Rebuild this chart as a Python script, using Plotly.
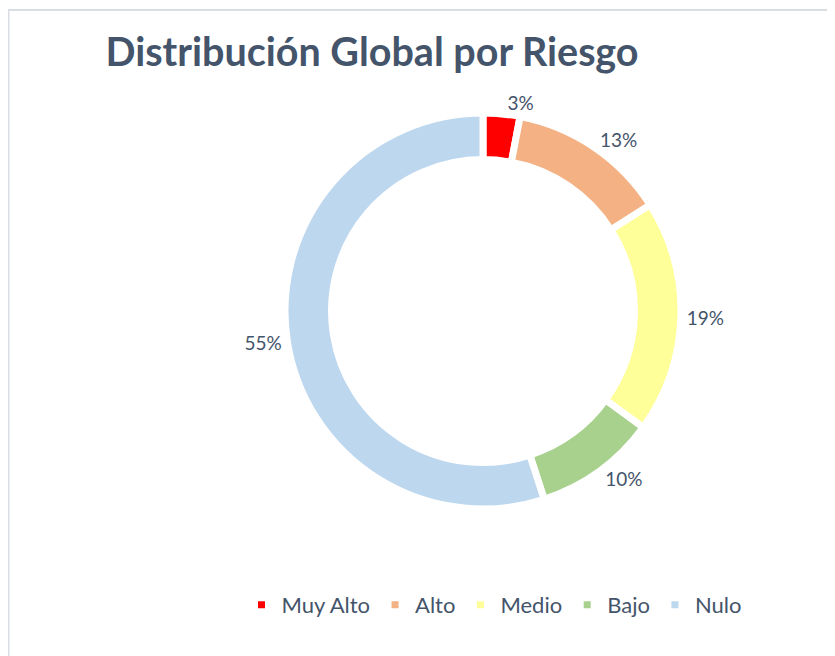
import plotly.graph_objects as go

categories = ["Muy Alto", "Alto", "Medio", "Bajo", "Nulo"]
values = [3, 13, 19, 10, 55]
colors = ["#FF0000", "#F4B183", "#FFFF99", "#A9D18E", "#BDD7EE"]

# page has an 8px body margin, so figure is 8px smaller and positions are offset
W, H = 827, 648
cx, cy, r = 475, 303, 198

fig = go.Figure(go.Pie(
    labels=categories,
    values=values,
    hole=0.765,
    sort=False,
    direction="clockwise",
    rotation=0,
    automargin=False,
    marker=dict(colors=colors, line=dict(color="white", width=7)),
    texttemplate="%{value}%",
    textposition="outside",
    textfont=dict(family="Lato", size=19, color="#44546A"),
    hoverinfo="label+percent",
    domain=dict(x=[(cx - 340) / W, (cx + 340) / W],
                y=[(H - cy - r) / H, (H - cy + r) / H]),
))

fig.update_layout(
    width=W, height=H,
    margin=dict(l=0, r=0, t=0, b=0, pad=0, autoexpand=False),
    paper_bgcolor="white",
    title=dict(text="<b>Distribución Global por Riesgo</b>",
               font=dict(family="Lato", size=39.5, color="#44546A"),
               x=364 / W, xanchor="center", y=1 - 44 / H, yanchor="middle"),
    legend=dict(orientation="h", x=486 / W, xanchor="center", y=1 - 597 / H, yanchor="middle",
                font=dict(family="Lato", size=22, color="#44546A"),
                itemwidth=30, traceorder="normal"),
    shapes=[dict(type="rect", xref="paper", yref="paper",
                 x0=0.5 / W, x1=1.2, y0=-0.2, y1=1 - 2 / H,
                 line=dict(color="#D9DEE4", width=2))],
)

fig.write_html("out.html")
